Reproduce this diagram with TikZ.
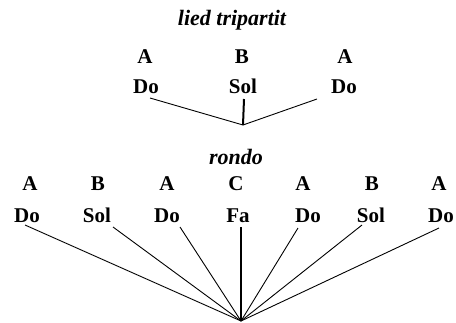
\documentclass[tikz,border=0pt]{standalone}
\usepackage{fontspec}
\setmainfont{Liberation Serif}
\usetikzlibrary{calc, positioning}

\begin{document}
\begin{tikzpicture}[
    x=1pt, y=-1pt,
    label/.style={anchor=base, inner sep=0pt, font=\fontsize{21}{24}\selectfont\bfseries},
    title/.style={anchor=base, inner sep=0pt, font=\fontsize{22}{26}\selectfont\bfseries\itshape},
    branch/.style={line width=0.9pt},
    trunk/.style={line width=2pt}
]

    % 1. Moldura
    \useasboundingbox (0,0) rectangle (456,322);

    % 2. Lied tripartit
    \node[title] (tTitle) at (232,25) {lied tripartit};
    \node[label] (tA1) at (145,63) {A};
    \node[label] (tB)  at (242,63) {B};
    \node[label] (tA2) at (345,63) {A};
    \node[label] (tDo1) at (146,93) {Do};
    \node[label] (tSol) at (243,93) {Sol};
    \node[label] (tDo2) at (344,93) {Do};
    \coordinate (tHub) at (243,125);

    \draw[branch] ([shift={(4,5)}]tDo1.base) -- (tHub);
    \draw[trunk]  ([shift={(1,6)}]tSol.base) -- (tHub);
    \draw[branch] ([shift={(-27,6)}]tDo2.base) -- (tHub);

    % 3. Rondo
    \node[title] (rTitle) at (236,164) {rondo};
    \node[label] (rA1) at (30,190) {A};
    \node[label] (rB1) at (98,190) {B};
    \node[label] (rA2) at (167,190) {A};
    \node[label] (rC)  at (236,190) {C};
    \node[label] (rA3) at (303,190) {A};
    \node[label] (rB2) at (372,190) {B};
    \node[label] (rA4) at (439,190) {A};

    \node[label] (rDo1) at (27,222) {Do};
    \node[label] (rSol1) at (97,222) {Sol};
    \node[label] (rDo2) at (167,222) {Do};
    \node[label] (rFa) at (238,222) {Fa};
    \node[label] (rDo3) at (308,222) {Do};
    \node[label] (rSol2) at (371,222) {Sol};
    \node[label] (rDo4) at (441,222) {Do};
    \coordinate (rHub) at (241,321);

    \draw[branch] ([shift={(-2,3)}]rDo1.base) -- (rHub);
    \draw[branch] ([shift={(16,5)}]rSol1.base) -- (rHub);
    \draw[branch] ([shift={(13,5)}]rDo2.base) -- (rHub);
    \draw[trunk]  ([shift={(3,5)}]rFa.base) -- (rHub);
    \draw[branch] ([shift={(-10,6)}]rDo3.base) -- (rHub);
    \draw[branch] ([shift={(-9,3)}]rSol2.base) -- (rHub);
    \draw[branch] ([shift={(-2,6)}]rDo4.base) -- (rHub);

\end{tikzpicture}
\end{document}
